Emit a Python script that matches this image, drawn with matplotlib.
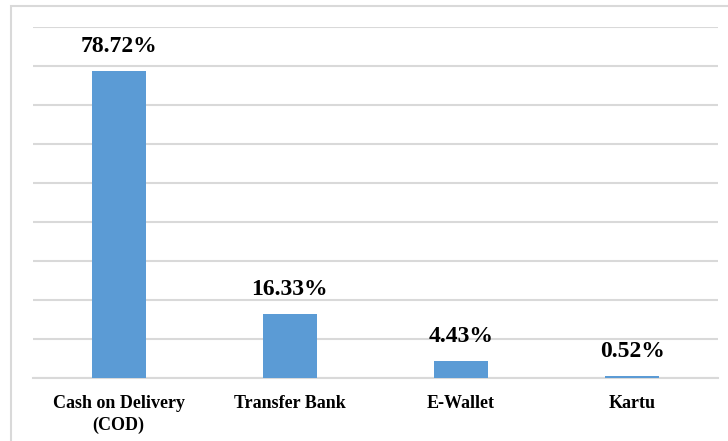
"""Payment method share bar chart."""

import matplotlib
matplotlib.use("Agg")
import matplotlib.pyplot as plt
from matplotlib.patches import Rectangle

categories = ["Cash on Delivery\n(COD)", "Transfer Bank", "E-Wallet", "Kartu"]
shares = [78.72, 16.33, 4.43, 0.52]
value_labels = ["78.72%", "16.33%", "4.43%", "0.52%"]

plt.rcParams["font.family"] = ["Liberation Serif", "DejaVu Serif"]

figure = plt.figure(figsize=(7.28, 4.41), dpi=100)
figure.patches.append(
    Rectangle((11 / 728, -0.05), 1.0, 1 - 6 / 441 + 0.05, transform=figure.transFigure,
              fill=False, edgecolor="#d9d9d9", linewidth=1.5, figure=figure)
)
axis = figure.add_axes([33 / 728, 1 - 378 / 441, 685 / 728, 351 / 441])

positions = range(len(categories))
axis.bar(positions, shares, width=0.315, color="#5b9bd5", zorder=3)
for x, value, text in zip(positions, shares, value_labels):
    axis.annotate(text, (x, value), xytext=(0, 10), textcoords="offset points",
                  ha="center", va="bottom", fontsize=17, fontweight="bold")

axis.set_xlim(-0.5, len(categories) - 0.5)
axis.set_ylim(0, 90)
axis.set_yticks(range(0, 91, 10))
axis.yaxis.grid(True, color="#d9d9d9", linewidth=1.5, zorder=0)
axis.tick_params(axis="y", left=False, labelleft=False)
axis.tick_params(axis="x", length=0, pad=12)
axis.set_xticks(list(positions))
axis.set_xticklabels(categories, fontsize=13, fontweight="bold", linespacing=1.35)
for side in ["left", "right", "top"]:
    axis.spines[side].set_visible(False)
axis.spines["bottom"].set_color("#d9d9d9")
axis.spines["bottom"].set_linewidth(1.5)

figure.savefig("out.png", dpi=100)
